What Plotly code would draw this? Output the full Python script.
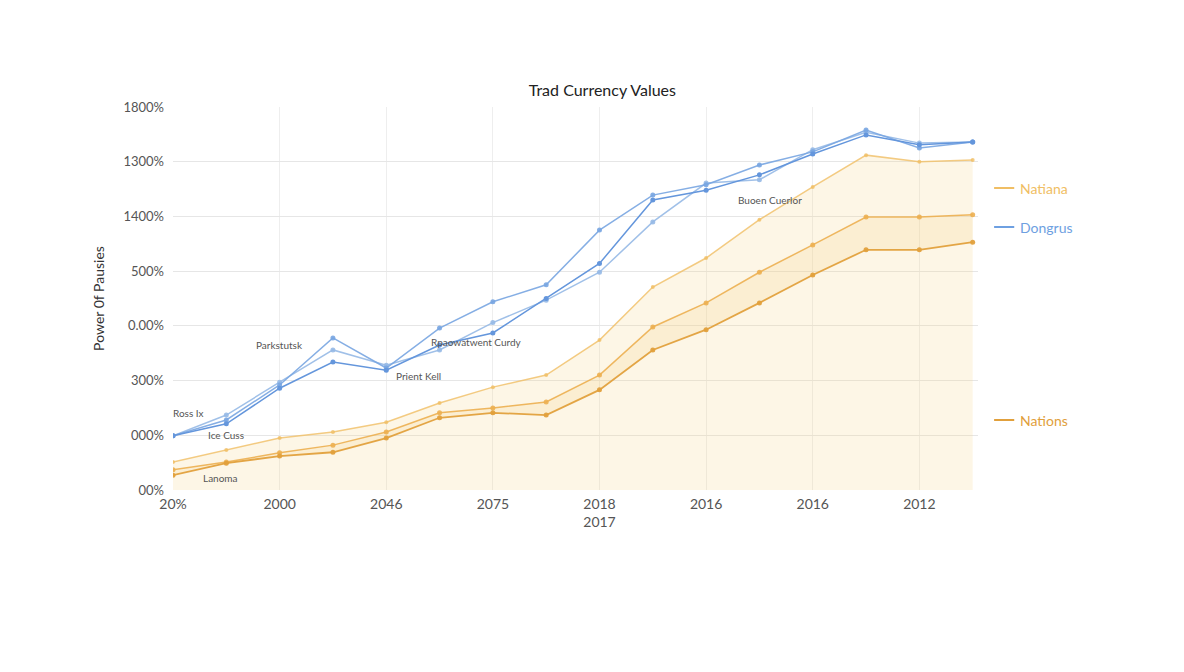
import plotly.graph_objects as go

x = list(range(16))
blue1 = [0.99,1.28,1.92,2.78,2.23,2.96,3.44,3.75,4.75,5.39,5.58,5.94,6.18,6.58,6.25,6.36]
blue2 = [0.99,1.21,1.86,2.34,2.19,2.65,2.87,3.50,4.14,5.30,5.48,5.76,6.14,6.49,6.31,6.36]
blue3 = [0.99,1.37,1.97,2.56,2.28,2.56,3.06,3.47,3.98,4.90,5.61,5.67,6.22,6.54,6.34,6.36]
orange_top = [0.51,0.73,0.95,1.06,1.24,1.59,1.88,2.10,2.74,3.71,4.24,4.94,5.54,6.12,6.00,6.03]
orange_mid = [0.37,0.51,0.68,0.82,1.06,1.41,1.50,1.61,2.10,2.98,3.42,3.98,4.48,4.99,4.99,5.03]
orange_low = [0.27,0.49,0.62,0.69,0.95,1.32,1.41,1.37,1.83,2.56,2.93,3.42,3.93,4.39,4.39,4.53]
xtick_vals = [0,2,4,6,8,10,12,14]
xtick_text = ["20%","2000","2046","2075","2018<br>2017","2016","2016","2012"]
ytick_vals = [0,1,2,3,4,5,6,7]
ytick_text = ["00%","000%","300%","0.00%","500%","1400%","1300%","1800%"]

fig = go.Figure()
fig.add_trace(go.Scatter(x=x, y=orange_top, mode="lines+markers", fill="tozeroy",
    fillcolor="rgba(245,215,140,0.22)", line=dict(color="rgba(240,190,100,0.8)", width=1.5),
    marker=dict(size=4), showlegend=False))
fig.add_trace(go.Scatter(x=x, y=orange_mid, mode="lines+markers",
    line=dict(color="rgba(236,175,80,0.9)", width=1.5), marker=dict(size=5), showlegend=False))
fig.add_trace(go.Scatter(x=x, y=orange_low, mode="lines+markers", fill="tonexty",
    fillcolor="rgba(245,210,130,0.2)",
    line=dict(color="rgba(225,160,60,0.95)", width=1.8), marker=dict(size=5), showlegend=False))
for b, c in [(blue3, "rgba(150,185,230,0.9)"), (blue1, "rgba(120,165,225,0.9)"), (blue2, "rgba(100,150,220,1)")]:
    fig.add_trace(go.Scatter(x=x, y=b, mode="lines+markers", line=dict(color=c, width=1.5),
        marker=dict(size=5, color=c), showlegend=False))

ann = [(0.3,1.4,"Ross Ix"),(1.0,1.0,"Ice Cuss"),(0.9,0.22,"Lanoma"),(2.0,2.65,"Parkstutsk"),
       (4.6,2.08,"Prient Kell"),(5.7,2.7,"Rpaowatwent Curdy"),(11.2,5.3,"Buoen Cuerlor")]
for ax_, ay_, t in ann:
    fig.add_annotation(x=ax_, y=ay_, text=t, showarrow=False, font=dict(size=10, color="#555"))

for yp, t, c in [(188,"Natiana","rgba(240,190,100,1)"),(227,"Dongrus","rgba(110,160,225,1)"),(420,"Nations","rgba(225,160,60,1)")]:
    yy = 1 - (yp - 107) / (490 - 107)
    fig.add_shape(type="line", xref="paper", yref="paper", x0=1.02, x1=1.045, y0=yy, y1=yy,
                  line=dict(color=c, width=2))
    fig.add_annotation(xref="paper", yref="paper", x=1.05, y=yy, text=t, showarrow=False,
                       xanchor="left", yanchor="middle", font=dict(size=14, color=c))

fig.update_layout(
    width=1184, height=672, plot_bgcolor="white", paper_bgcolor="white",
    margin=dict(l=165, r=214, t=99, b=190),
    font=dict(family="Lato, DejaVu Sans", color="#555"),
    title=dict(text="Trad Currency Values", x=0.502, xanchor="center", y=0.878, yanchor="middle",
               font=dict(size=16, color="#222")),
    xaxis=dict(range=[0, 15.1], tickvals=xtick_vals, ticktext=xtick_text, showgrid=True,
               gridcolor="#eee", zeroline=False, tickfont=dict(size=14), showline=False,
               ticklabelstandoff=4),
    yaxis=dict(range=[0, 7], tickvals=ytick_vals, ticktext=ytick_text, gridcolor="#e6e6e6",
               zeroline=False, tickfont=dict(size=13), ticklabelstandoff=8,
               title=dict(text="Power 0f Pausies", font=dict(size=14, color="#333"))),
)
fig.write_html("out.html")
